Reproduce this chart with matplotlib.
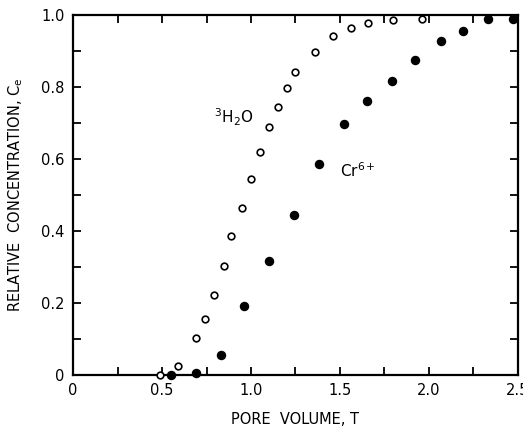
import matplotlib
matplotlib.use("Agg")
import matplotlib.pyplot as plt
from matplotlib.ticker import MultipleLocator

# Tritiated water (open circles)
h2o_x = [0.49, 0.59, 0.69, 0.74, 0.79, 0.85, 0.89, 0.95, 1.00, 1.05, 1.10, 1.15, 1.20, 1.25,
         1.36, 1.46, 1.56, 1.66, 1.80, 1.96]
h2o_y = [0.00, 0.026, 0.103, 0.155, 0.221, 0.302, 0.385, 0.465, 0.544, 0.619, 0.689, 0.744,
         0.797, 0.841, 0.897, 0.942, 0.963, 0.977, 0.986, 0.990]

# Cr6+ (filled circles)
cr_x = [0.55, 0.69, 0.83, 0.96, 1.10, 1.24, 1.38, 1.52, 1.65, 1.79, 1.92, 2.07, 2.19, 2.33, 2.47]
cr_y = [0.00, 0.005, 0.056, 0.191, 0.318, 0.444, 0.585, 0.698, 0.761, 0.816, 0.876, 0.929,
        0.956, 0.989, 0.989]

x_ticks = [0, 0.5, 1.0, 1.5, 2.0, 2.5]
x_labels = ["0", "0.5", "1.0", "1.5", "2.0", "2.5"]
y_ticks = [0, 0.2, 0.4, 0.6, 0.8, 1.0]
y_labels = ["0", "0.2", "0.4", "0.6", "0.8", "1.0"]

plt.rcParams['font.family'] = ['DejaVu Sans']
fig = plt.figure(figsize=(5.23, 4.32), dpi=100)
ax = fig.add_axes([0.1396, 0.132, 0.8508, 0.833])

ax.plot(h2o_x, h2o_y, linestyle='none', marker='o', markersize=4.8, markerfacecolor='white',
        markeredgecolor='black', markeredgewidth=1.2, clip_on=False, zorder=3)
ax.plot(cr_x, cr_y, linestyle='none', marker='o', markersize=5.8, markerfacecolor='black',
        markeredgecolor='black', clip_on=False, zorder=3)

ax.set_xlim(0, 2.5)
ax.set_ylim(0, 1.0)
ax.set_xticks(x_ticks)
ax.set_xticklabels(x_labels)
ax.set_yticks(y_ticks)
ax.set_yticklabels(y_labels)
ax.xaxis.set_minor_locator(MultipleLocator(0.25))
ax.yaxis.set_minor_locator(MultipleLocator(0.1))
ax.tick_params(which='both', direction='in', top=True, right=True, labelsize=10.5,
               width=1.3, color='black')
ax.tick_params(which='major', length=6, pad=6)
ax.tick_params(which='minor', length=6)
for s in ax.spines.values():
    s.set_linewidth(1.6)

ax.set_xlabel("PORE  VOLUME, T", fontsize=10.5, labelpad=10)
ax.set_ylabel("RELATIVE  CONCENTRATION, $\\mathregular{C_e}$", fontsize=10.5, labelpad=12)

ax.text(0.79, 0.70, "$\\mathregular{^3H_2O}$", fontsize=11)
ax.text(1.50, 0.55, "$\\mathregular{Cr^{6+}}$", fontsize=11)

fig.savefig("out.png", dpi=100)
